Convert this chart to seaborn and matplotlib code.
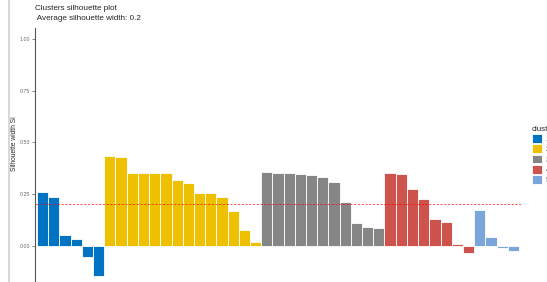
import numpy as np
import pandas as pd
import matplotlib
matplotlib.use('Agg')
import matplotlib.pyplot as plt
import seaborn as sns
from matplotlib.lines import Line2D

sns.set_style('white')
plt.rcParams['font.family'] = ['Liberation Sans', 'DejaVu Sans']

# silhouette widths per cluster, sorted as in the reference
cluster_1 = [0.262, 0.235, 0.050, 0.035, -0.055, -0.146]
cluster_2 = [0.435, 0.430, 0.354, 0.354, 0.354, 0.354, 0.319, 0.303,
             0.255, 0.255, 0.238, 0.166, 0.074, 0.016]
cluster_3 = [0.359, 0.354, 0.351, 0.346, 0.340, 0.333, 0.310, 0.211,
             0.110, 0.092, 0.085]
cluster_4 = [0.351, 0.345, 0.274, 0.226, 0.132, 0.116, 0.010, -0.035]
cluster_5 = [0.174, 0.043, -0.010, -0.024]

cluster_names = ['1', '2', '3', '4', '5']
palette = ['#0073C2', '#EFC000', '#868686', '#CD534C', '#7AA6DC']

widths = cluster_1 + cluster_2 + cluster_3 + cluster_4 + cluster_5
labels = []
for name, vals in zip(cluster_names, [cluster_1, cluster_2, cluster_3, cluster_4, cluster_5]):
    labels += [name] * len(vals)

df = pd.DataFrame({'obs': np.arange(len(widths)), 'sil_width': widths, 'cluster': labels})
avg_width = df['sil_width'].mean()

W, H = 547, 282
fig = plt.figure(figsize=(W / 100, H / 100), dpi=100)
ax = fig.add_axes([35 / W, 0, 486 / W, 254 / H])

sns.barplot(data=df, x='obs', y='sil_width', hue='cluster', palette=palette,
            saturation=1, dodge=False, width=1.0, edgecolor='white',
            linewidth=0.6, ax=ax)
ax.axhline(avg_width, color='red', linestyle=(0, (2.5, 2)), linewidth=0.6, alpha=0.8)

ax.set_xlim(-0.68, len(widths) - 0.32)
ax.set_ylim(-0.175, 1.053)
ax.set_xticks([])
ax.set_xlabel('')
ax.set_ylabel('')
ax.set_yticks([0, 0.25, 0.5, 0.75, 1.0])
ax.set_yticklabels(['0.00', '0.25', '0.50', '0.75', '1.00'])
ax.tick_params(axis='y', labelsize=3.8, labelcolor='#666666', color='#555555',
               length=2, width=0.5, pad=1.5, left=True)
for side in ['top', 'right', 'bottom']:
    ax.spines[side].set_visible(False)
ax.spines['left'].set_color('#555555')
ax.spines['left'].set_linewidth(0.8)

fig.text(15 / W, 1 - 144 / H, 'Silhouette width Si', rotation=90, fontsize=4.8,
         ha='center', va='center')
fig.text(35 / W, 1 - 9 / H, 'Clusters silhouette plot', fontsize=5.9, ha='left', va='center')
fig.text(35 / W, 1 - 19 / H, ' Average silhouette width: 0.2', fontsize=5.9, ha='left', va='center')

# legend sits partly outside the right edge, as in the reference screenshot
sns.move_legend(ax, 'upper left', bbox_to_anchor=(526 / W, 1 - 120 / H),
                bbox_transform=fig.transFigure, frameon=False, title='cluster',
                fontsize=5.8, title_fontsize=5.8, handlelength=1.3, handleheight=1.25,
                labelspacing=0.17, handletextpad=0.4, borderpad=0.2)
leg = ax.get_legend()
leg._legend_box.align = 'left'

# left border artefact of the screenshot
fig.add_artist(Line2D([9 / W, 9 / W], [0, 1], color='#D8D8D8', linewidth=1.5))

fig.savefig('out.png', dpi=100)
